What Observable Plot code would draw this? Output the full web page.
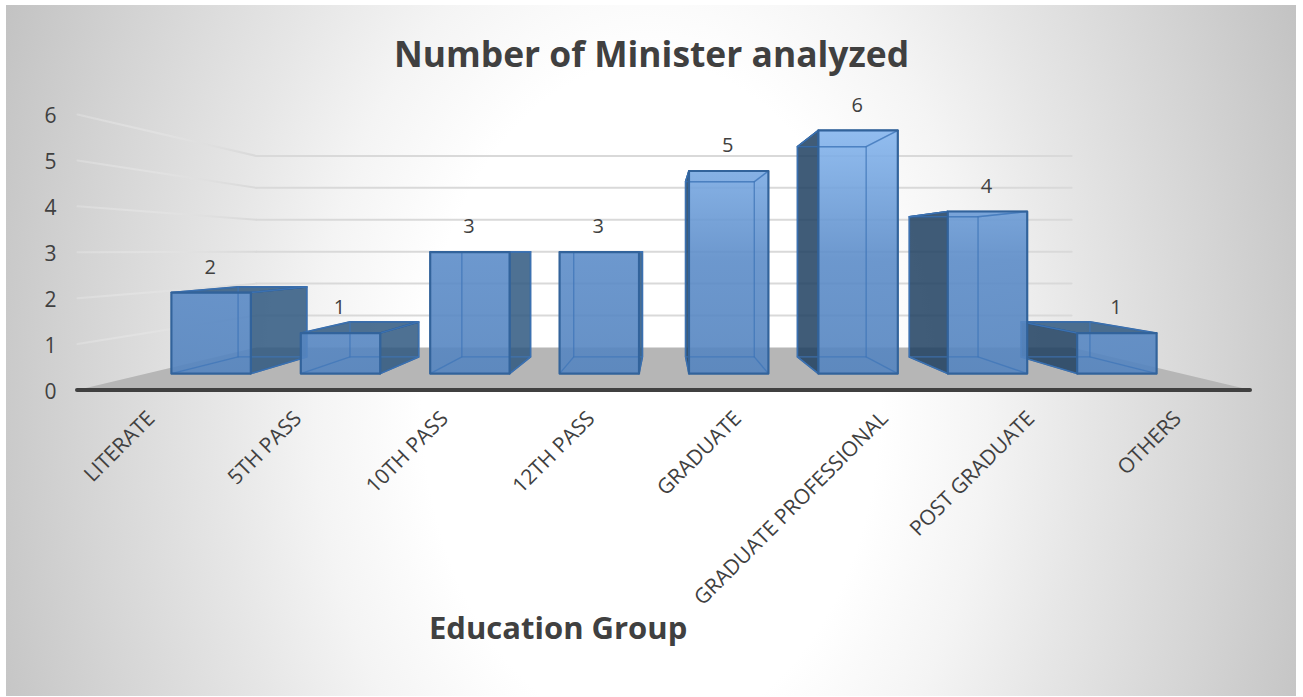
<!DOCTYPE html>
<html>
<head>
<meta charset="utf-8">
<script src="https://cdn.jsdelivr.net/npm/d3@7"></script>
<script src="https://cdn.jsdelivr.net/npm/@observablehq/plot@0.6"></script>
<style>
  html, body { margin: 0; padding: 0; background: #fff; width: 1303px; height: 697px; overflow: hidden; }
  #panel { position: absolute; left: 6px; top: 5px; width: 1290px; height: 691px;
    background: radial-gradient(ellipse 763px 1120px at 50% 57%, #ffffff 30%, #f4f4f4 44%, #e6e6e6 57%, #d4d4d4 75%, #bdbdbd 97%); }
  #chart { position: absolute; left: 0; top: 0; }
  .t { position: absolute; font-family: "Open Sans", sans-serif; font-weight: 700; color: #404040; white-space: nowrap; line-height: 1; }
  #title { left: 394px; top: 36px; font-size: 35.4px; }
  #xtitle { left: 429px; top: 612px; font-size: 31px; }
</style>
</head>
<body>
<div id="panel"></div>
<div id="chart"></div>
<div class="t" id="title">Number of Minister analyzed</div>
<div class="t" id="xtitle">Education Group</div>
<script>
const categories = ["LITERATE", "5TH PASS", "10TH PASS", "12TH PASS", "GRADUATE", "GRADUATE PROFESSIONAL", "POST GRADUATE", "OTHERS"];
const values = [2, 1, 3, 3, 5, 6, 4, 1];
const valueTicks = [0, 1, 2, 3, 4, 5, 6];

// Perspective of the 3-D chart, expressed in category and value units
const centre = 3.5, horizon = 3.04, halfBar = 0.307;
const depthWall = 0.695, depthBarFront = 0.8825, depthBarBack = 0.763;
const pt = (cat, val, depth) => ({x: centre + depth * (cat - centre), y: horizon + depth * (val - horizon)});
const ring = (pts) => [...pts, pts[0]];
const poly = (pts, o) => Plot.line(pts, {x: "x", y: "y", curve: "linear", strokeLinejoin: "round", ...o});

const first = -0.5, last = categories.length - 0.5;
const marks = [];

// floor
marks.push(poly([pt(first, 0, 1), pt(last, 0, 1), pt(last, 0, depthWall), pt(first, 0, depthWall)],
  {fill: "#b6b6b6", stroke: "none"}));

// gridlines: side wall, then back wall
for (const v of valueTicks.slice(1)) {
  marks.push(poly([pt(first, v, 1), pt(first, v, depthWall)], {stroke: "url(#wallGrid)", strokeWidth: 2}));
  marks.push(poly([pt(first, v, depthWall), pt(last, v, depthWall)], {stroke: "#d9d9d9", strokeWidth: 2}));
}

// bars, painted from the outside towards the middle on the left, then from the right
function bar(i) {
  const v = values[i], l = i - halfBar, r = i + halfBar;
  const fb = pt(l, 0, depthBarFront), fB = pt(r, 0, depthBarFront), ft = pt(l, v, depthBarFront), fT = pt(r, v, depthBarFront);
  const bb = pt(l, 0, depthBarBack), bB = pt(r, 0, depthBarBack), bt = pt(l, v, depthBarBack), bT = pt(r, v, depthBarBack);
  const leftOfCentre = i < centre;
  const side = leftOfCentre ? [fB, fT, bT, bB] : [fb, ft, bt, bb];
  const sideFill = leftOfCentre ? "#2f5880" : "#1f3f60";
  const edge = "#32639b";
  marks.push(poly(ring([ft, fT, bT, bt]), v < horizon
    ? {fill: "#2f5880", fillOpacity: 0.85, stroke: edge, strokeWidth: 1.6}
    : {stroke: edge, strokeWidth: 1.6}));
  marks.push(poly(ring(side), {fill: sideFill, fillOpacity: 0.85, stroke: edge, strokeWidth: 1.6}));
  marks.push(poly(ring([fb, fB, fT, ft]), {fill: "url(#frontFace)", stroke: "none"}));
  const inner = {stroke: "#3f76b8", strokeWidth: 1.4, strokeOpacity: 0.75};
  marks.push(poly(ring([bb, bB, bT, bt]), inner));
  for (const [a, b] of [[fb, bb], [fB, bB], [ft, bt], [fT, bT]]) marks.push(poly([a, b], inner));
  marks.push(poly(ring([fb, fB, fT, ft]), {stroke: edge, strokeWidth: 2.2}));
}
[0, 1, 2, 3, 7, 6, 5, 4].forEach(bar);

// base line
marks.push(Plot.ruleY([0], {x1: first, x2: last, stroke: "#404040", strokeWidth: 4, strokeLinecap: "round"}));

// value labels
marks.push(Plot.text(values.map((v, i) => ({...pt(i, v, depthBarFront), v})), {
  x: "x", y: "y", text: "v", dy: -25, dx: -1, fontSize: 20, fill: "#404040"
}));

// axes
marks.push(Plot.axisY({ticks: valueTicks, tickSize: 0, tickPadding: 21, dy: 2, fontSize: 21, color: "#404040", label: null, tickFormat: d3.format("d")}));
marks.push(Plot.axisX({ticks: categories.map((_, i) => i), tickFormat: (i) => categories[i], tickRotate: -45,
  tickSize: 0, tickPadding: 25, dx: 0.5, fontSize: 21, color: "#404040", label: null}));

const svg = Plot.plot({
  width: 1303, height: 697,
  marginLeft: 77, marginRight: 53, marginTop: 114, marginBottom: 307.5,
  x: {type: "linear", domain: [first, last]},
  y: {type: "linear", domain: [0, 6]},
  style: {background: "transparent", fontFamily: "'Open Sans', sans-serif", overflow: "visible"},
  marks
});
svg.insertAdjacentHTML("afterbegin", `<defs>
  <linearGradient id="wallGrid" gradientUnits="userSpaceOnUse" x1="77" y1="0" x2="255" y2="0">
    <stop offset="0" stop-color="#eeeeee" stop-opacity="0.3"/>
    <stop offset="1" stop-color="#d9d9d9" stop-opacity="1"/>
  </linearGradient>
  <linearGradient id="frontFace" gradientUnits="userSpaceOnUse" x1="0" y1="130" x2="0" y2="373">
    <stop offset="0" stop-color="#86b6ee" stop-opacity="0.9"/>
    <stop offset="0.535" stop-color="#5c8cc8" stop-opacity="0.9"/>
    <stop offset="1" stop-color="#5484bf" stop-opacity="0.9"/>
  </linearGradient>
</defs>`);
document.getElementById("chart").appendChild(svg);
</script>
</body>
</html>
